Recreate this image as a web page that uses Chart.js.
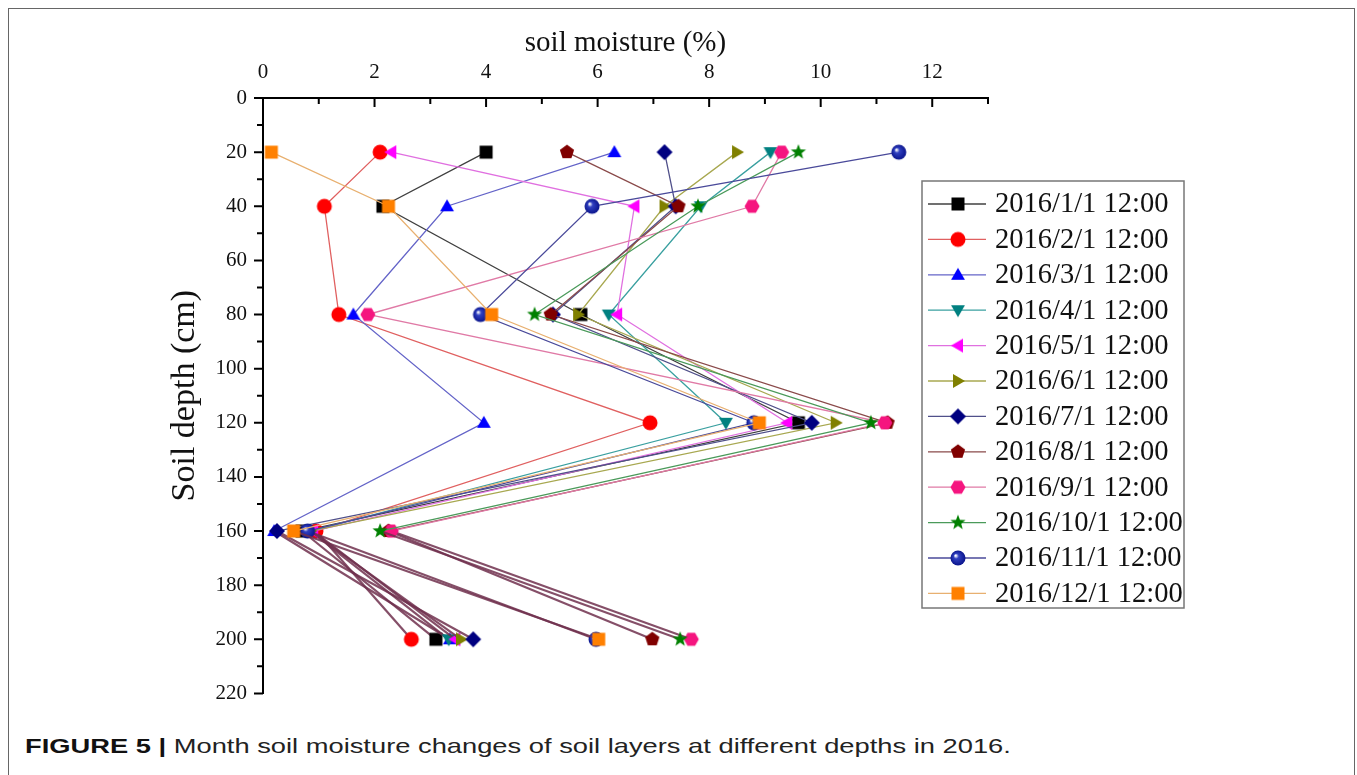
<!DOCTYPE html>
<html lang="en">
<head>
    <meta charset="UTF-8">
    <title>Soil moisture profiles 2016</title>
    <script src="https://cdn.jsdelivr.net/npm/chart.js"></script>
</head>
<style>
    body {
        margin: 0;
        background: #fff;
        width: 1357px;
        height: 775px;
        overflow: hidden;
        position: relative;
    }

    .frame {
        position: absolute;
        left: 8px;
        top: 8px;
        width: 1345px;
        height: 800px;
        border: 1.5px solid #666;
        border-bottom: none;
    }

    #profileChart {
        position: absolute;
        left: 0;
        top: 0;
    }

    .caption {
        position: absolute;
        left: 25px;
        top: 734px;
        font-family: "Liberation Sans", Arial, sans-serif;
        font-size: 21px;
        color: #222;
        white-space: nowrap;
        transform: scaleX(1.3);
        transform-origin: left top;
    }

    .caption b {
        color: #111;
    }
</style>

<body>
    <div class="frame"></div>
    <canvas id="profileChart" width="1357" height="722"></canvas>
    <div class="caption"><b>FIGURE 5 |</b> Month soil moisture changes of soil layers at different depths in 2016.</div>

    <script>
        // depth of each measuring layer (cm)
        var depths = [20, 40, 80, 120, 160, 200];

        var months = ['2016/1/1 12:00', '2016/2/1 12:00', '2016/3/1 12:00', '2016/4/1 12:00',
            '2016/5/1 12:00', '2016/6/1 12:00', '2016/7/1 12:00', '2016/8/1 12:00',
            '2016/9/1 12:00', '2016/10/1 12:00', '2016/11/1 12:00', '2016/12/1 12:00'];

        // soil moisture (%) per layer, one array per month
        var jan = [4.0, 2.15, 5.7, 9.6, 0.7, 3.1];
        var feb = [2.1, 1.1, 1.36, 6.94, 0.95, 2.66];
        var mar = [6.3, 3.3, 1.62, 3.96, 0.2, 3.35];
        var apr = [9.1, 7.85, 6.2, 8.3, 0.85, 3.33];
        var may = [2.3, 6.66, 6.35, 9.4, 0.9, 3.45];
        var jun = [8.5, 7.2, 5.65, 10.27, 0.85, 3.55];
        var jul = [7.2, 7.4, 5.2, 9.84, 0.25, 3.77];
        var aug = [5.45, 7.45, 5.16, 11.2, 2.25, 6.98];
        var sep = [9.3, 8.77, 1.88, 11.15, 2.3, 7.68];
        var oct = [9.6, 7.8, 4.87, 10.9, 2.1, 7.48];
        var nov = [11.4, 5.9, 3.9, 8.8, 0.8, 5.97];
        var dec = [0.15, 2.25, 4.1, 8.9, 0.55, 6.02];
        var seriesValues = [jan, feb, mar, apr, may, jun, jul, aug, sep, oct, nov, dec];

        var xTicks = [0, 2, 4, 6, 8, 10, 12];
        var yTicks = [0, 20, 40, 60, 80, 100, 120, 140, 160, 180, 200, 220];

        var markerShapes = ['square', 'circle', 'up', 'down', 'left', 'right',
            'diamond', 'pentagon', 'hexagon', 'star', 'ball', 'square'];
        var markerColors = ['#000000', '#ff0000', '#0000ff', '#008080', '#ff00ff', '#808000',
            '#000080', '#800000', '#f5157f', '#008000', '#0a148c', '#ff8000'];
        var lineColors = ['#404040', '#e06060', '#6464c8', '#3aa0a0', '#e070e0', '#a8a850',
            '#50508a', '#8a4a4a', '#e07aa6', '#4a9a5a', '#4a4a9a', '#e8b070'];

        var serif = "'Liberation Serif', 'Times New Roman', serif";
        Chart.defaults.font.family = serif;
        Chart.defaults.font.size = 20;
        Chart.defaults.color = '#111';

        // small canvases used as point styles
        function polygon(g, n, r, startDeg) {
            for (var k = 0; k < n; k++) {
                var a = (startDeg + k * 360 / n) * Math.PI / 180;
                var px = r * Math.cos(a), py = r * Math.sin(a);
                if (k === 0) g.moveTo(px, py); else g.lineTo(px, py);
            }
            g.closePath();
        }

        function makeMarker(shape, color) {
            var size = 18;
            var c = document.createElement('canvas');
            c.width = size;
            c.height = size;
            var g = c.getContext('2d');
            var r = size / 2 - 1;
            g.translate(size / 2, size / 2);
            g.fillStyle = color;
            g.beginPath();
            if (shape === 'square') {
                g.rect(-6.5, -6.5, 13, 13);
            } else if (shape === 'circle') {
                g.arc(0, 0, 7.5, 0, Math.PI * 2);
            } else if (shape === 'up') {
                g.translate(0, 1);
                polygon(g, 3, r, -90);
            } else if (shape === 'down') {
                g.translate(0, -1);
                polygon(g, 3, r, 90);
            } else if (shape === 'left') {
                g.translate(1, 0);
                polygon(g, 3, r, 180);
            } else if (shape === 'right') {
                g.translate(-1, 0);
                polygon(g, 3, r, 0);
            } else if (shape === 'diamond') {
                polygon(g, 4, r, -90);
            } else if (shape === 'pentagon') {
                polygon(g, 5, r - 0.5, -90);
            } else if (shape === 'hexagon') {
                polygon(g, 6, r - 0.5, 0);
            } else if (shape === 'star') {
                for (var k = 0; k < 10; k++) {
                    var a = (-90 + k * 36) * Math.PI / 180;
                    var rr = k % 2 === 0 ? r : r * 0.42;
                    if (k === 0) g.moveTo(rr * Math.cos(a), rr * Math.sin(a));
                    else g.lineTo(rr * Math.cos(a), rr * Math.sin(a));
                }
                g.closePath();
            } else if (shape === 'ball') {
                var grad = g.createRadialGradient(-2.5, -2.5, 0.5, 0, 0, 7.5);
                grad.addColorStop(0, '#ffffff');
                grad.addColorStop(0.3, '#3040c0');
                grad.addColorStop(1, color);
                g.fillStyle = grad;
                g.arc(0, 0, 7.5, 0, Math.PI * 2);
            }
            g.fill();
            return c;
        }

        var markers = markerShapes.map(function (s, i) { return makeMarker(s, markerColors[i]); });

        var datasets = seriesValues.map(function (vals, i) {
            return {
                label: months[i],
                data: depths.map(function (d, j) { return { x: vals[j], y: d }; }),
                showLine: true,
                borderColor: lineColors[i],
                borderWidth: 1.3,
                pointStyle: markers[i],
                pointRadius: 9,
                order: seriesValues.length - i,
                segment: {
                    // the deepest segment is drawn in dark maroon
                    borderColor: function (c) { return c.p0.parsed.y === 160 ? 'rgba(112,48,78,0.85)' : undefined; },
                    borderWidth: function (c) { return c.p0.parsed.y === 160 ? 2.2 : undefined; }
                }
            };
        });

        // tick marks: top axis points inward, left axis outward, with minor ticks
        var tickMarks = {
            id: 'tickMarks',
            beforeDatasetsDraw: function (chart) {
                var ctx = chart.ctx, a = chart.chartArea;
                var x = chart.scales.x, y = chart.scales.y;
                ctx.save();
                ctx.strokeStyle = '#000';
                ctx.lineWidth = 2;
                ctx.beginPath();
                for (var v = 0; v <= 13; v++) {
                    var px = x.getPixelForValue(v);
                    var len = v % 2 === 0 ? 9 : 6;
                    ctx.moveTo(px, a.top);
                    ctx.lineTo(px, a.top + len);
                }
                for (var d = 0; d <= 220; d += 10) {
                    var py = y.getPixelForValue(d);
                    var l2 = d % 20 === 0 ? 9 : 6;
                    ctx.moveTo(a.left, py);
                    ctx.lineTo(a.left - l2, py);
                }
                // top axis runs slightly past the left spine
                ctx.moveTo(a.left - 5, a.top);
                ctx.lineTo(a.left, a.top);
                ctx.stroke();
                ctx.restore();
            }
        };

        // boxed legend with line sample and marker
        var boxLegend = {
            id: 'boxLegend',
            afterDraw: function (chart) {
                var ctx = chart.ctx;
                var left = 922, top = 181, width = 262, height = 427, step = 35.4;
                ctx.save();
                ctx.fillStyle = '#fff';
                ctx.fillRect(left, top, width, height);
                ctx.strokeStyle = '#777';
                ctx.lineWidth = 1.5;
                ctx.strokeRect(left, top, width, height);
                ctx.font = '28.5px ' + serif;
                ctx.textBaseline = 'middle';
                ctx.fillStyle = '#111';
                chart.data.datasets.forEach(function (ds, i) {
                    var cy = top + 23 + i * step;
                    ctx.strokeStyle = lineColors[i];
                    ctx.lineWidth = 1.3;
                    ctx.beginPath();
                    ctx.moveTo(928, cy);
                    ctx.lineTo(986, cy);
                    ctx.stroke();
                    ctx.drawImage(markers[i], 958 - 9, cy - 9);
                    ctx.fillText(ds.label, 995, cy + 1);
                });
                ctx.restore();
            }
        };

        var ctx = document.getElementById('profileChart').getContext('2d');
        var profileChart = new Chart(ctx, {
            type: 'scatter',
            data: { datasets: datasets },
            options: {
                responsive: false,
                animation: false,
                events: [],
                layout: { padding: { left: 160, top: 26, right: 369, bottom: 25 } },
                plugins: {
                    legend: { display: false },
                    tooltip: { enabled: false }
                },
                scales: {
                    x: {
                        type: 'linear',
                        position: 'top',
                        min: 0,
                        max: 13,
                        afterFit: function (scale) { scale.height = 72; },
                        afterBuildTicks: function (scale) {
                            scale.ticks = xTicks.map(function (v) { return { value: v }; });
                        },
                        grid: { display: false, drawTicks: false },
                        border: { display: true, color: '#000', width: 2 },
                        ticks: { color: '#111', padding: 13, font: { family: serif, size: 21 } },
                        title: {
                            display: true,
                            text: 'soil moisture (%)',
                            color: '#111',
                            padding: { top: 0, bottom: 0 },
                            font: { family: serif, size: 29 }
                        }
                    },
                    y: {
                        type: 'linear',
                        reverse: true,
                        min: 0,
                        max: 220,
                        afterFit: function (scale) { scale.width = 103; },
                        afterBuildTicks: function (scale) {
                            scale.ticks = yTicks.map(function (v) { return { value: v }; });
                        },
                        grid: { display: false, drawTicks: false },
                        border: { display: true, color: '#000', width: 2 },
                        ticks: { color: '#111', padding: 16, autoSkip: false, font: { family: serif, size: 21 } },
                        title: {
                            display: true,
                            text: 'Soil depth (cm)',
                            color: '#111',
                            padding: { top: 5, bottom: 0 },
                            font: { family: serif, size: 34 }
                        }
                    }
                }
            },
            plugins: [tickMarks, boxLegend]
        });
    </script>
</body>
</html>
